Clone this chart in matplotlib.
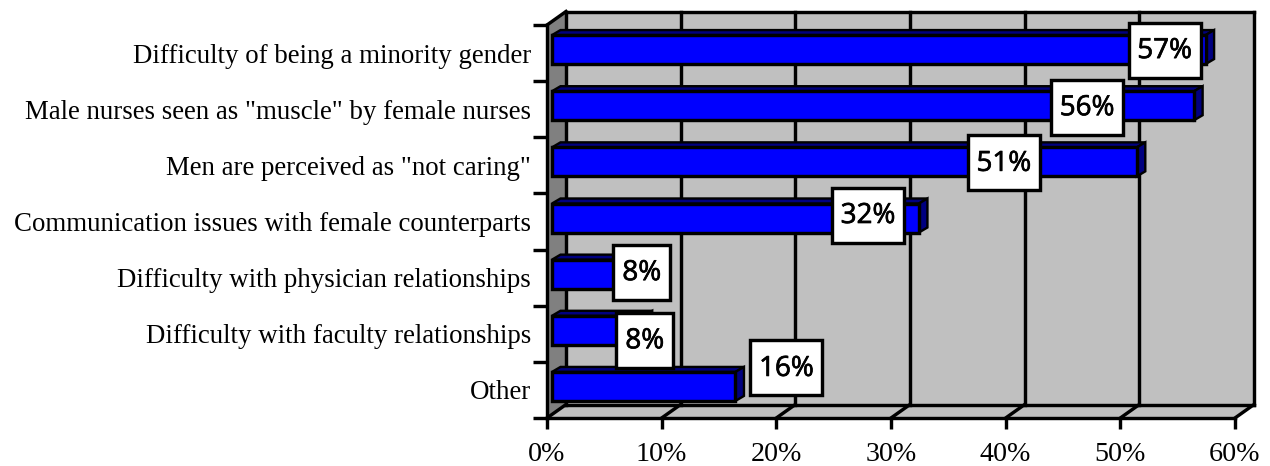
import matplotlib
matplotlib.use("Agg")
import matplotlib.pyplot as plt
import matplotlib.patheffects as pe
from matplotlib.patches import Polygon, Rectangle

categories = ['Difficulty of being a minority gender',
              'Male nurses seen as "muscle" by female nurses',
              'Men are perceived as "not caring"',
              'Communication issues with female counterparts',
              'Difficulty with physician relationships',
              'Difficulty with faculty relationships',
              'Other']
values = [57, 56, 51, 32, 8, 8, 16]
x_ticks = [0, 10, 20, 30, 40, 50, 60]
x_labels = ['0%', '10%', '20%', '30%', '40%', '50%', '60%']

# label placement, in pixels relative to the bar end / category centre
label_dx = [-41, -107, -133, -51, -2, 1, 51]
label_dy = [-3, -2, -2.5, -6.5, -5.5, 6.5, -22]

W, H = 1270, 466
L, R, T, B = 547, 1235, 25, 418
fig = plt.figure(figsize=(W/100, H/100), dpi=100)
ax = fig.add_axes([L/W, 1-B/H, (R-L)/W, (B-T)/H])
ax.set_xlim(0, 60)
ax.set_ylim(6.5, -0.5)
ax.patch.set_visible(False)

sx = lambda p: p*60/(R-L)
sy = lambda p: p*7/(B-T)
LW = 3.4*72/100
BLK = '#000000'
ddx, ddy = sx(19), sy(13.5)
yt, yb = -0.5, 6.5

# walls
ax.add_patch(Polygon([(0, yt), (ddx, yt-ddy), (ddx, yb-ddy), (0, yb)], fc='#808080', ec='none', clip_on=False, zorder=1))
ax.add_patch(Polygon([(ddx, yt-ddy), (60+ddx, yt-ddy), (60+ddx, yb-ddy), (ddx, yb-ddy)], fc='#C0C0C0', ec='none', clip_on=False, zorder=1))
ax.add_patch(Polygon([(0, yb), (ddx, yb-ddy), (60+ddx, yb-ddy), (60, yb)], fc='#C0C0C0', ec='none', clip_on=False, zorder=1))
for t in x_ticks:
    ax.plot([t+ddx, t+ddx], [yt-ddy, yb-ddy], color=BLK, lw=LW, clip_on=False, zorder=2, solid_capstyle='projecting')
    ax.plot([t, t+ddx], [yb, yb-ddy], color=BLK, lw=LW, clip_on=False, zorder=2)
ax.plot([ddx, 60+ddx], [yt-ddy, yt-ddy], color=BLK, lw=LW, clip_on=False, zorder=2, solid_capstyle='projecting')
ax.plot([ddx, 60+ddx], [yb-ddy, yb-ddy], color=BLK, lw=LW, clip_on=False, zorder=2)
ax.plot([0, ddx], [yt, yt-ddy], color=BLK, lw=LW, clip_on=False, zorder=2)

# bars
x0 = sx(5)
bh = sy(29)
up = sy(3.5)
bdx, bdy = sx(8.5), sy(5)
ys = list(range(len(categories)))
ycent = [y-up for y in ys]
ax.barh(ycent, values, left=x0, height=bh, color='#0000FF', edgecolor=BLK, linewidth=LW, zorder=4, clip_on=False)
for y, v in zip(ycent, values):
    x1 = x0+v
    top, bot = y-bh/2, y+bh/2
    ax.add_patch(Polygon([(x0, top), (x0+bdx, top-bdy), (x1+bdx, top-bdy), (x1, top)],
                         fc='#000080', ec=BLK, lw=LW*0.7, zorder=3, clip_on=False))
    ax.add_patch(Polygon([(x1, top), (x1+bdx, top-bdy), (x1+bdx, bot-bdy), (x1, bot)],
                         fc='#000080', ec=BLK, lw=LW*0.7, zorder=3, clip_on=False))

# value labels
for y, v, dx, dy in zip(ys, values, label_dx, label_dy):
    txt = f'{v}%'
    w = sx(72 if v >= 10 else 57)
    h = sy(55)
    cx = x0+v+sx(dx)
    cy = y+sy(dy)
    ax.add_patch(Rectangle((cx-w/2, cy-h/2), w, h, fc='white', ec=BLK, lw=LW, zorder=6, clip_on=False))
    ax.text(cx, cy+sy(1), txt, ha='center', va='center', family='Open Sans', fontsize=20, color=BLK, zorder=7, clip_on=False,
            path_effects=[pe.withStroke(linewidth=0.5, foreground=BLK)])

# axes
for s in ['top', 'right']:
    ax.spines[s].set_visible(False)
for s in ['left', 'bottom']:
    ax.spines[s].set_linewidth(LW)
    ax.spines[s].set_zorder(5)
ax.set_xticks(x_ticks)
ax.set_xticklabels(x_labels, family='Liberation Serif', fontsize=20.2)
ax.set_yticks([y-0.5 for y in ys]+[6.5])
ax.set_yticklabels([])
ax.set_yticks(ys, minor=True)
ax.set_yticklabels(categories, minor=True, family='Liberation Serif', fontsize=19.4)
ax.tick_params(axis='x', length=8, width=LW, pad=9)
ax.tick_params(axis='y', which='major', length=10, width=LW)
ax.tick_params(axis='y', which='minor', length=0, pad=11.4)

fig.savefig('out.png', dpi=100)
